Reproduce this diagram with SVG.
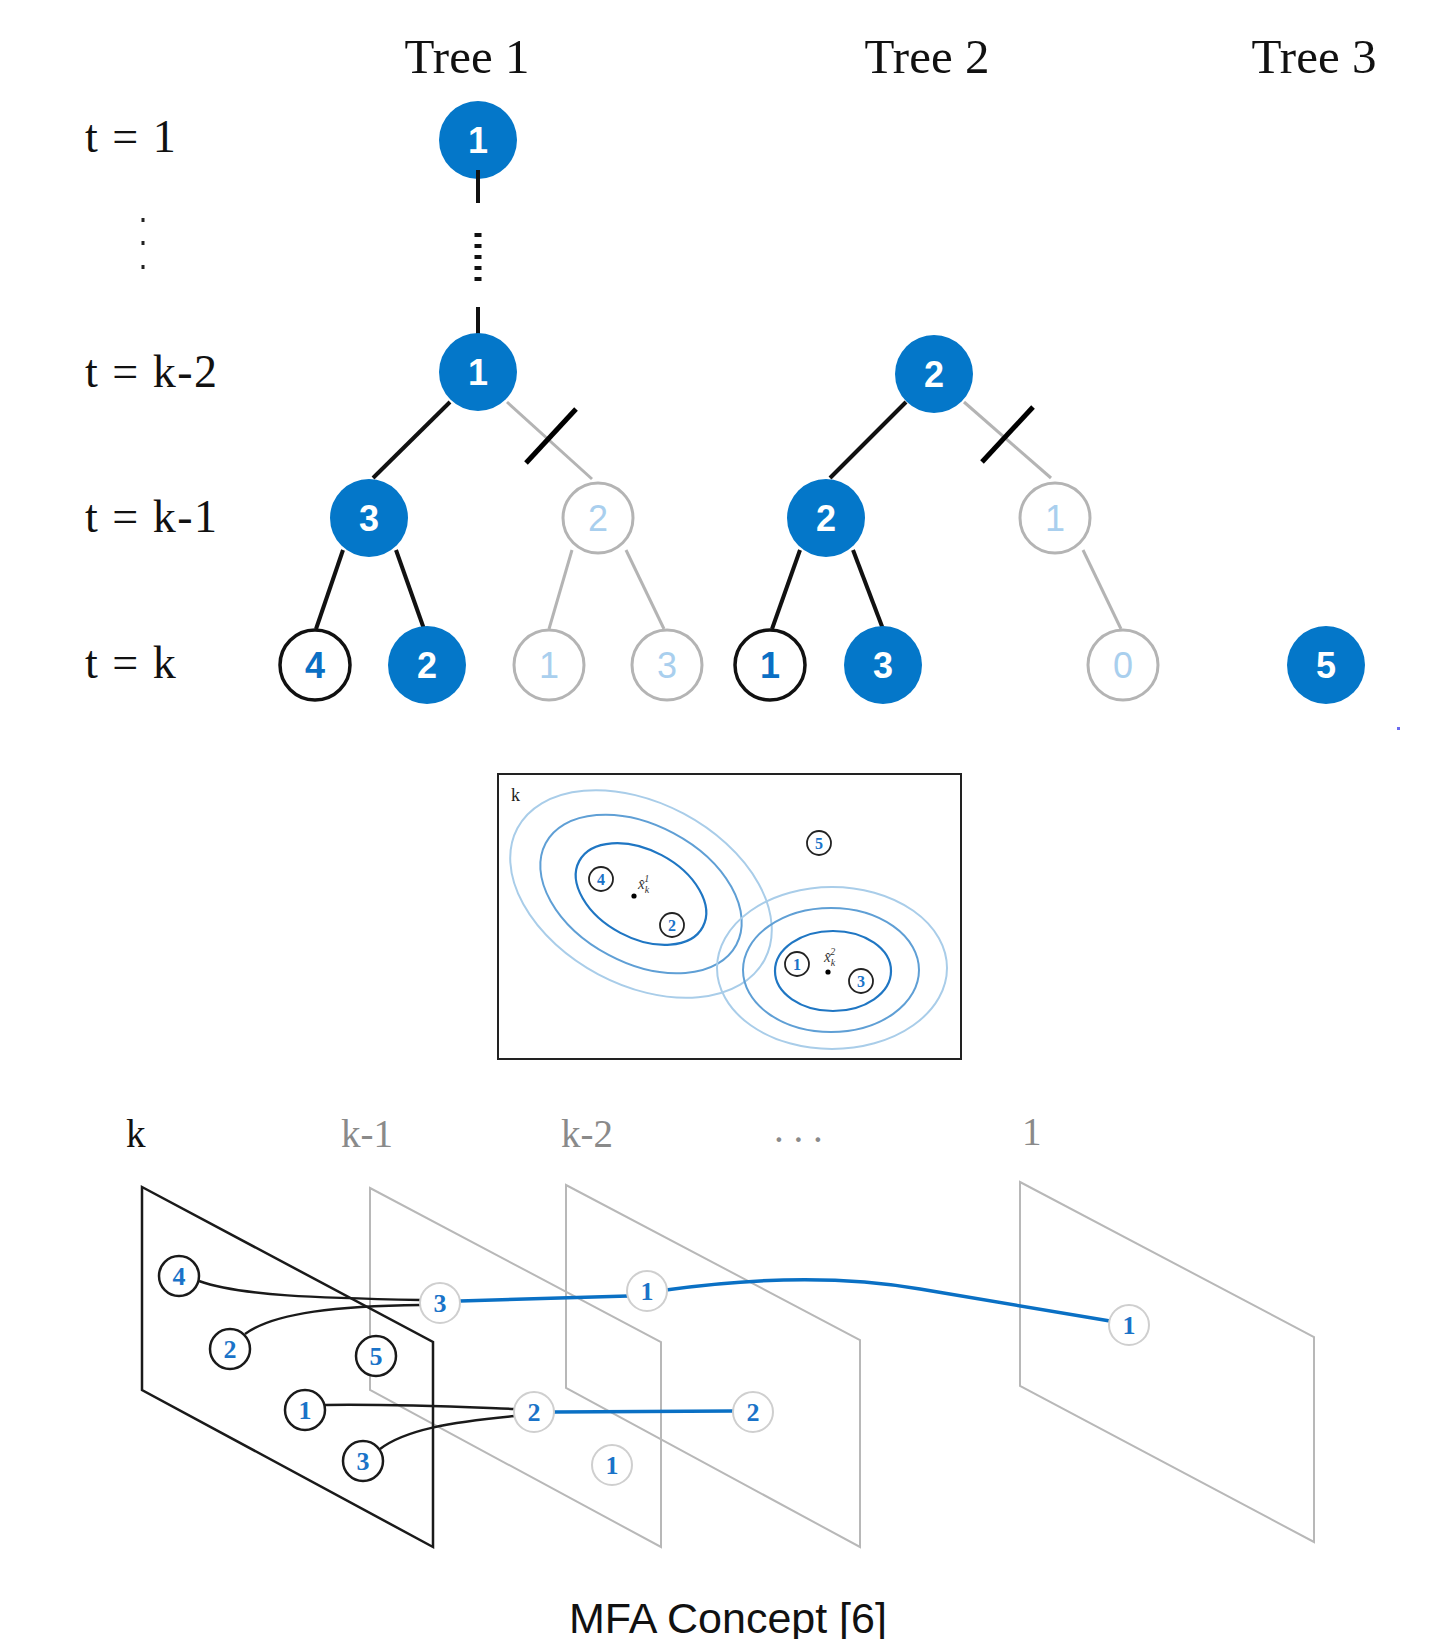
<svg xmlns="http://www.w3.org/2000/svg" width="1448" height="1639" viewBox="0 0 1448 1639">
<defs>
<style>
.hdr{font-family:"Liberation Serif",serif;font-size:49px;fill:#111;text-anchor:middle}
.row{font-family:"Liberation Serif",serif;font-size:46px;fill:#111;letter-spacing:1.5px}
.tn{font-family:"Liberation Sans",sans-serif;font-size:36px;font-weight:bold;text-anchor:middle}
.fl{fill:#0477c9}
.ol{fill:#fff;stroke:#111;stroke-width:3.5}
.gc{fill:#fff;stroke:#b4b4b4;stroke-width:3}
.tw{fill:#fff}
.tb{fill:#0a6fc4}
.tl{fill:#a9cfee;font-weight:normal}
.bl{stroke:#111;stroke-width:4;fill:none}
.gl{stroke:#b4b4b4;stroke-width:3;fill:none}
.sl{stroke:#000;stroke-width:5}
.e1{fill:none;stroke:#1f76c3;stroke-width:2.2}
.e2{fill:none;stroke:#5f9fd5;stroke-width:2}
.e3{fill:none;stroke:#a9cde9;stroke-width:2}
.sn{fill:#fff;stroke:#222;stroke-width:1.8}
.st{font-family:"Liberation Serif",serif;font-size:16px;font-weight:bold;fill:#1a73c8;text-anchor:middle}
.pk{fill:none;stroke:#1a1a1a;stroke-width:2.5}
.pg{fill:none;stroke:#b8b8b8;stroke-width:2}
.bn{fill:#fff;stroke:#1a1a1a;stroke-width:2.5}
.gn{fill:#fff;stroke:#cfcfcf;stroke-width:2}
.bt{font-family:"Liberation Serif",serif;font-size:26px;font-weight:bold;fill:#1a73c8;text-anchor:middle}
.lab{font-family:"Liberation Serif",serif;font-size:39px;fill:#8a8a8a}
.cb{fill:none;stroke:#1a1a1a;stroke-width:2.5}
.cl{fill:none;stroke:#0a70c4;stroke-width:3.5}
.xl{font-family:"Liberation Serif",serif;font-style:italic;font-size:15px;fill:#333}
</style>
</defs>
<rect width="1448" height="1639" fill="#fff"/>

<g id="headers">
<text class="hdr" x="467" y="73">Tree 1</text>
<text class="hdr" x="927" y="73">Tree 2</text>
<text class="hdr" x="1314" y="73">Tree 3</text>
</g>
<g id="rows">
<text class="row" x="85" y="152">t = 1</text>
<rect x="141.5" y="218" width="3" height="4" fill="#222"/>
<rect x="141.5" y="241" width="3" height="4" fill="#222"/>
<rect x="141.5" y="265" width="3" height="4" fill="#222"/>
<text class="row" x="85" y="387">t = k-2</text>
<text class="row" x="85" y="532">t = k-1</text>
<text class="row" x="85" y="678">t = k</text>
</g>

<g id="tree-connectors">
<line class="gl" x1="507" y1="402" x2="592" y2="479"/>
<line class="gl" x1="572" y1="550" x2="549" y2="629"/>
<line class="gl" x1="626" y1="550" x2="664" y2="629"/>
<line class="gl" x1="964" y1="402" x2="1051" y2="478"/>
<line class="gl" x1="1083" y1="550" x2="1121" y2="629"/>
<line class="bl" x1="450" y1="402" x2="373" y2="478"/>
<line class="bl" x1="343" y1="550" x2="316" y2="629"/>
<line class="bl" x1="396" y1="550" x2="424" y2="629"/>
<line class="bl" x1="906" y1="402" x2="830" y2="478"/>
<line class="bl" x1="800" y1="550" x2="772" y2="629"/>
<line class="bl" x1="853" y1="550" x2="883" y2="629"/>
<line class="sl" x1="526" y1="463" x2="576" y2="409"/>
<line class="sl" x1="982" y1="462" x2="1033" y2="407"/>
</g>

<g id="t1-n1-top"><circle class="fl" cx="478" cy="140" r="39"/><text class="tn tw" x="478" y="153">1</text></g>
<g id="t1-chain">
<line class="bl" x1="478" y1="170" x2="478" y2="203"/>
<line x1="478" y1="233" x2="478" y2="281" stroke="#111" stroke-width="7" stroke-dasharray="4 7"/>
<line class="bl" x1="478" y1="307" x2="478" y2="336"/>
</g>
<g id="t1-n1"><circle class="fl" cx="478" cy="372" r="39"/><text class="tn tw" x="478" y="385">1</text></g>
<g id="t1-n3"><circle class="fl" cx="369" cy="518" r="39"/><text class="tn tw" x="369" y="531">3</text></g>
<g id="t1-n2g"><circle class="gc" cx="598" cy="518" r="35"/><text class="tn tl" x="598" y="531">2</text></g>
<g id="t1-n4"><circle class="ol" cx="315" cy="665" r="35"/><text class="tn tb" x="315" y="678">4</text></g>
<g id="t1-n2"><circle class="fl" cx="427" cy="665" r="39"/><text class="tn tw" x="427" y="678">2</text></g>
<g id="t1-n1g"><circle class="gc" cx="549" cy="665" r="35"/><text class="tn tl" x="549" y="678">1</text></g>
<g id="t1-n3g"><circle class="gc" cx="667" cy="665" r="35"/><text class="tn tl" x="667" y="678">3</text></g>

<g id="t2-n2top"><circle class="fl" cx="934" cy="374" r="39"/><text class="tn tw" x="934" y="387">2</text></g>
<g id="t2-n2"><circle class="fl" cx="826" cy="518" r="39"/><text class="tn tw" x="826" y="531">2</text></g>
<g id="t2-n1g"><circle class="gc" cx="1055" cy="518" r="35"/><text class="tn tl" x="1055" y="531">1</text></g>
<g id="t2-n1"><circle class="ol" cx="770" cy="665" r="35"/><text class="tn tb" x="770" y="678">1</text></g>
<g id="t2-n3"><circle class="fl" cx="883" cy="665" r="39"/><text class="tn tw" x="883" y="678">3</text></g>
<g id="t2-n0g"><circle class="gc" cx="1123" cy="665" r="35"/><text class="tn tl" x="1123" y="678">0</text></g>

<g id="t3-n5"><circle class="fl" cx="1326" cy="665" r="39"/><text class="tn tw" x="1326" y="678">5</text></g>
<rect x="1397" y="727" width="3" height="3" fill="#6a6af0"/>

<g id="gate-box">
<rect x="498" y="774" width="463" height="285" fill="none" stroke="#222" stroke-width="2"/>
<text x="511" y="801" font-family="Liberation Serif, serif" font-size="18" fill="#222">k</text>
<g transform="translate(641 894) rotate(28)">
<ellipse class="e3" cx="0" cy="0" rx="140" ry="91"/>
<ellipse class="e2" cx="0" cy="0" rx="108" ry="69"/>
<ellipse class="e1" cx="0" cy="0" rx="70" ry="44"/>
</g>
<ellipse class="e3" cx="832" cy="968" rx="115" ry="81"/>
<ellipse class="e2" cx="831" cy="970" rx="88" ry="62"/>
<ellipse class="e1" cx="833" cy="971" rx="58" ry="40"/>
<circle cx="634" cy="896" r="2.6" fill="#000"/>
<circle cx="828" cy="972" r="2.6" fill="#000"/>
<text class="xl" x="638" y="889">x̂<tspan font-size="10" dy="4">k</tspan><tspan font-size="10" dx="-5" dy="-11">1</tspan></text>
<text class="xl" x="824" y="962">x̂<tspan font-size="10" dy="4">k</tspan><tspan font-size="10" dx="-5" dy="-11">2</tspan></text>
</g>
<g id="g-n4"><circle class="sn" cx="601" cy="879" r="12"/><text class="st" x="601" y="885">4</text></g>
<g id="g-n2"><circle class="sn" cx="672" cy="925" r="12"/><text class="st" x="672" y="931">2</text></g>
<g id="g-n5"><circle class="sn" cx="819" cy="843" r="12"/><text class="st" x="819" y="849">5</text></g>
<g id="g-n1"><circle class="sn" cx="797" cy="964" r="12"/><text class="st" x="797" y="970">1</text></g>
<g id="g-n3"><circle class="sn" cx="861" cy="981" r="12"/><text class="st" x="861" y="987">3</text></g>

<g id="scan-labels">
<text x="126" y="1147" font-family="Liberation Serif, serif" font-size="39" fill="#111">k</text>
<text class="lab" x="341" y="1147">k-1</text>
<text class="lab" x="561" y="1147">k-2</text>
<text class="lab" x="774" y="1142">. . .</text>
<text class="lab" x="1022" y="1145">1</text>
</g>
<g id="planes">
<polygon class="pg" points="1020,1182 1314,1337 1314,1542 1020,1386"/>
<polygon class="pg" points="566,1185 860,1340 860,1547 566,1388"/>
<polygon class="pg" points="370,1188 661,1342 661,1547 370,1390"/>
<polygon class="pk" points="142,1187 433,1342 433,1547 142,1390"/>
</g>

<g id="connectors">
<path class="cb" d="M199 1281 C240 1296 320 1298 421 1300"/>
<path class="cb" d="M245 1334 C275 1312 340 1306 421 1305"/>
<path class="cb" d="M325 1405 C400 1404 460 1407 515 1409"/>
<path class="cb" d="M380 1449 C405 1430 450 1422 515 1416"/>
<path class="cl" d="M460 1301 L628 1296"/>
<path class="cl" d="M666 1290 Q810 1270 920 1289 L1110 1321"/>
<path class="cl" d="M554 1412 L733 1411"/>
</g>

<g id="b-n4"><circle class="bn" cx="179" cy="1276" r="20"/><text class="bt" x="179" y="1285">4</text></g>
<g id="b-n2"><circle class="bn" cx="230" cy="1349" r="20"/><text class="bt" x="230" y="1358">2</text></g>
<g id="b-n5"><circle class="bn" cx="376" cy="1356" r="20"/><text class="bt" x="376" y="1365">5</text></g>
<g id="b-n1"><circle class="bn" cx="305" cy="1410" r="20"/><text class="bt" x="305" y="1419">1</text></g>
<g id="b-n3"><circle class="bn" cx="363" cy="1461" r="20"/><text class="bt" x="363" y="1470">3</text></g>
<g id="k1-n3"><circle class="gn" cx="440" cy="1303" r="20"/><text class="bt" x="440" y="1312">3</text></g>
<g id="k1-n2"><circle class="gn" cx="534" cy="1412" r="20"/><text class="bt" x="534" y="1421">2</text></g>
<g id="k1-n1"><circle class="gn" cx="612" cy="1465" r="20"/><text class="bt" x="612" y="1474">1</text></g>
<g id="k2-n1"><circle class="gn" cx="647" cy="1291" r="20"/><text class="bt" x="647" y="1300">1</text></g>
<g id="k2-n2"><circle class="gn" cx="753" cy="1412" r="20"/><text class="bt" x="753" y="1421">2</text></g>
<g id="s1-n1"><circle class="gn" cx="1129" cy="1325" r="20"/><text class="bt" x="1129" y="1334">1</text></g>

<text x="728" y="1633" font-family="Liberation Sans, sans-serif" font-size="43" fill="#111" text-anchor="middle">MFA Concept [6]</text>
</svg>
